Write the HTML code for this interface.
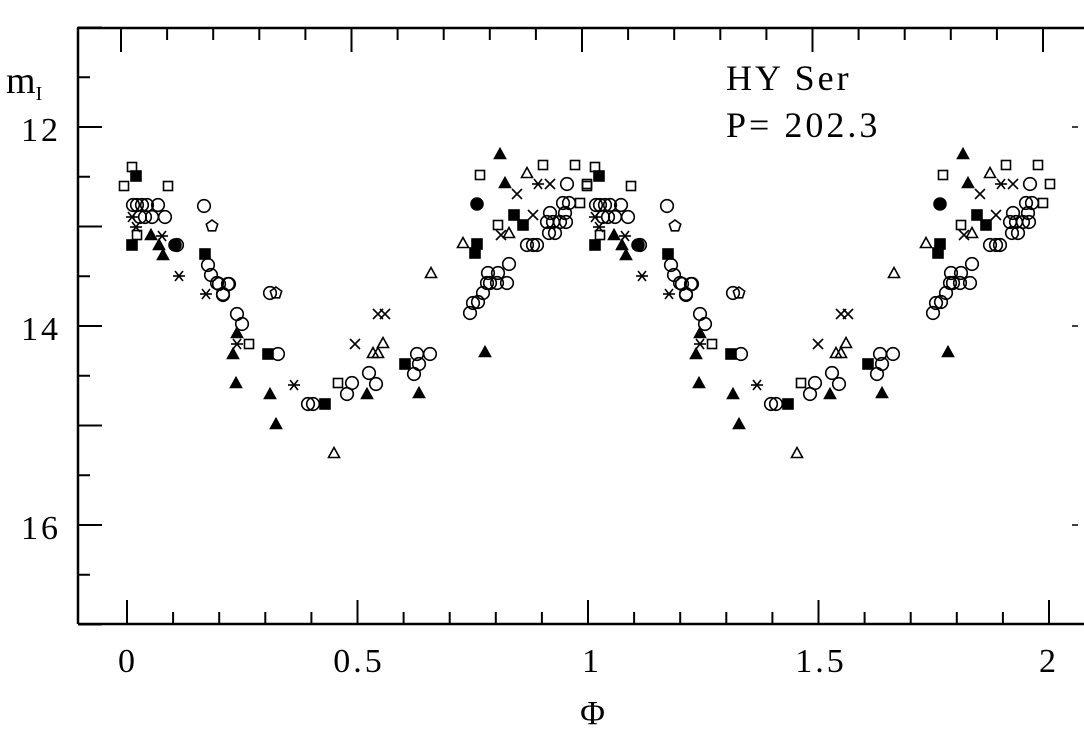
<!DOCTYPE html>
<html><head><meta charset="utf-8"><style>
html,body{margin:0;padding:0;background:#fff;}
svg{display:block;}
text{font-family:"Liberation Serif",serif;fill:#000;}
</style></head><body>
<svg id="s" width="1084" height="738" viewBox="0 0 1084 738" xmlns="http://www.w3.org/2000/svg">
<g stroke="#000" stroke-width="2.5" fill="none">
<line x1="77" y1="28" x2="1084" y2="28"/>
<line x1="78" y1="28" x2="78" y2="624"/>
<line x1="78" y1="624" x2="1084" y2="624"/>
</g>
<g id="ticks" stroke="#000" stroke-width="2"></g>
<g font-size="34" letter-spacing="3">
<text x="41" y="141" text-anchor="middle">12</text>
<text x="41" y="340" text-anchor="middle">14</text>
<text x="41" y="539" text-anchor="middle">16</text>
<text x="128" y="672" text-anchor="middle">0</text>
<text x="359" y="672" text-anchor="middle">0.5</text>
<text x="592" y="672" text-anchor="middle">1</text>
<text x="821" y="672" text-anchor="middle">1.5</text>
<text x="1049" y="672" text-anchor="middle">2</text>
<text x="594" y="724" text-anchor="middle">Φ</text>
<text x="6" y="93" font-size="38" letter-spacing="0">m<tspan font-size="20" dy="7">I</tspan></text>
<text x="726" y="90" font-size="36">HY Ser</text>
<text x="726" y="137" font-size="36">P= 202.3</text>
</g>
<g id="pts" stroke="#000" stroke-width="1.6"></g>
</svg>
<script>
var NS="http://www.w3.org/2000/svg";
function el(p,n,a){var e=document.createElementNS(NS,n);for(var k in a)e.setAttribute(k,a[k]);p.appendChild(e);return e;}
var tk=document.getElementById("ticks");
for(var i=0;i<=21;i++){var x=127+i*46.1;var L=(i%5==0)?24:12;
 el(tk,"line",{x1:x,y1:624,x2:x,y2:624-L});el(tk,"line",{x1:x-6,y1:28,x2:x-6,y2:28+L});}
for(var m=11;m<=17;m+=0.5){var y=127+(m-12)*99.5;var L=(m%1==0)?24:12;el(tk,"line",{x1:78,y1:y,x2:78+L,y2:y});}
[127,326,525].forEach(function(y){el(tk,"line",{x1:1072,y1:y,x2:1078,y2:y,"stroke-width":1.5});});
var P=[
["s",132,167],["S",136,176],["s",124,186],["s",168,186],
["o",133,205],["o",137,205],["o",142,205],["o",147,205],["o",158,205],
["o",140,217],["o",145,217],["o",152,217],["o",165,217],["a",132,217],["a",136,227],["q",137,235],
["T",151,235],["a",162,236],["S",132,245],["T",159,245],["T",163,255],["c",175,245],["o",177,245],
["o",204,206],["p",212,226],["S",205,254],["o",208,265],["o",211,275],["o",217,283],["o",228,284],["o",223,294],
["a",179,276],["a",206,294],["o",270,293],["p",276,293],
["o",219,284],["o",229,284],["o",223,295],
["o",237,314],["o",242,324],["T",237,333],["a",237,344],["s",249,344],["T",233,354],["S",268,354],["o",278,354],
["T",236,383],["T",270,394],["T",276,424],["a",294,385],["o",308,404],["o",313,404],["S",325,404],
["t",334,453],["q",338,383],["o",352,383],["o",347,394],["T",367,394],["o",369,373],["o",376,384],
["x",355,344],["x",378,314],["x",385,314],["t",383,343],["t",373,353],["t",378,353],
["S",405,364],["o",417,354],["o",430,354],["o",419,364],["o",414,374],["T",419,393],["t",431,273],
["T",500,154],["q",480,175],["T",505,183],["t",527,173],["q",543,165],["x",517,194],["c",477,204],
["a",538,184],["x",550,184],["o",567,184],["s",575,165],["s",587,184],
["S",514,215],["x",533,215],["S",523,225],["s",498,225],["x",501,235],["t",509,233],
["o",527,245],["o",533,245],["o",537,245],["t",463,243],["S",477,244],["S",475,253],
["o",563,203],["o",569,203],["s",580,203],["o",550,213],["o",565,213],
["o",547,222],["o",553,222],["o",560,222],["o",566,222],["o",555,233],["o",549,233],
["o",509,264],["o",498,273],["o",488,273],["o",507,283],["o",497,283],["o",487,283],["o",490,283],
["o",483,293],["o",478,302],["o",473,303],["o",470,313],["T",485,352]
];
var g=document.getElementById("pts");
function draw(t,x,y){
 if(t=="o")el(g,"circle",{cx:x,cy:y,r:6.3,fill:"none"});
 else if(t=="c")el(g,"circle",{cx:x,cy:y,r:6,fill:"#000"});
 else if(t=="s"||t=="q")el(g,"rect",{x:x-4.5,y:y-4.5,width:9,height:9,fill:"none"});
 else if(t=="S")el(g,"rect",{x:x-5,y:y-5,width:10,height:10,fill:"#000"});
 else if(t=="t")el(g,"polygon",{points:(x-5.5)+","+(y+4.5)+" "+(x+5.5)+","+(y+4.5)+" "+x+","+(y-5.5),fill:"none"});
 else if(t=="T")el(g,"polygon",{points:(x-5.5)+","+(y+4.5)+" "+(x+5.5)+","+(y+4.5)+" "+x+","+(y-5.5),fill:"#000"});
 else if(t=="x"){el(g,"line",{x1:x-5,y1:y-5,x2:x+5,y2:y+5});el(g,"line",{x1:x-5,y1:y+5,x2:x+5,y2:y-5});}
 else if(t=="a"){el(g,"line",{x1:x-6,y1:y,x2:x+6,y2:y});el(g,"line",{x1:x-4,y1:y-5,x2:x+4,y2:y+5});el(g,"line",{x1:x-4,y1:y+5,x2:x+4,y2:y-5});}
 else if(t=="p"){var s="";for(var k=0;k<5;k++){var a=-Math.PI/2+k*2*Math.PI/5;s+=(x+6*Math.cos(a))+","+(y+6*Math.sin(a))+" ";}el(g,"polygon",{points:s,fill:"none"});}
}
P.forEach(function(p){draw(p[0],p[1],p[2]);var x2=p[1]+463;if(x2<1082)draw(p[0],x2,p[2]);});
</script>
</body></html>
